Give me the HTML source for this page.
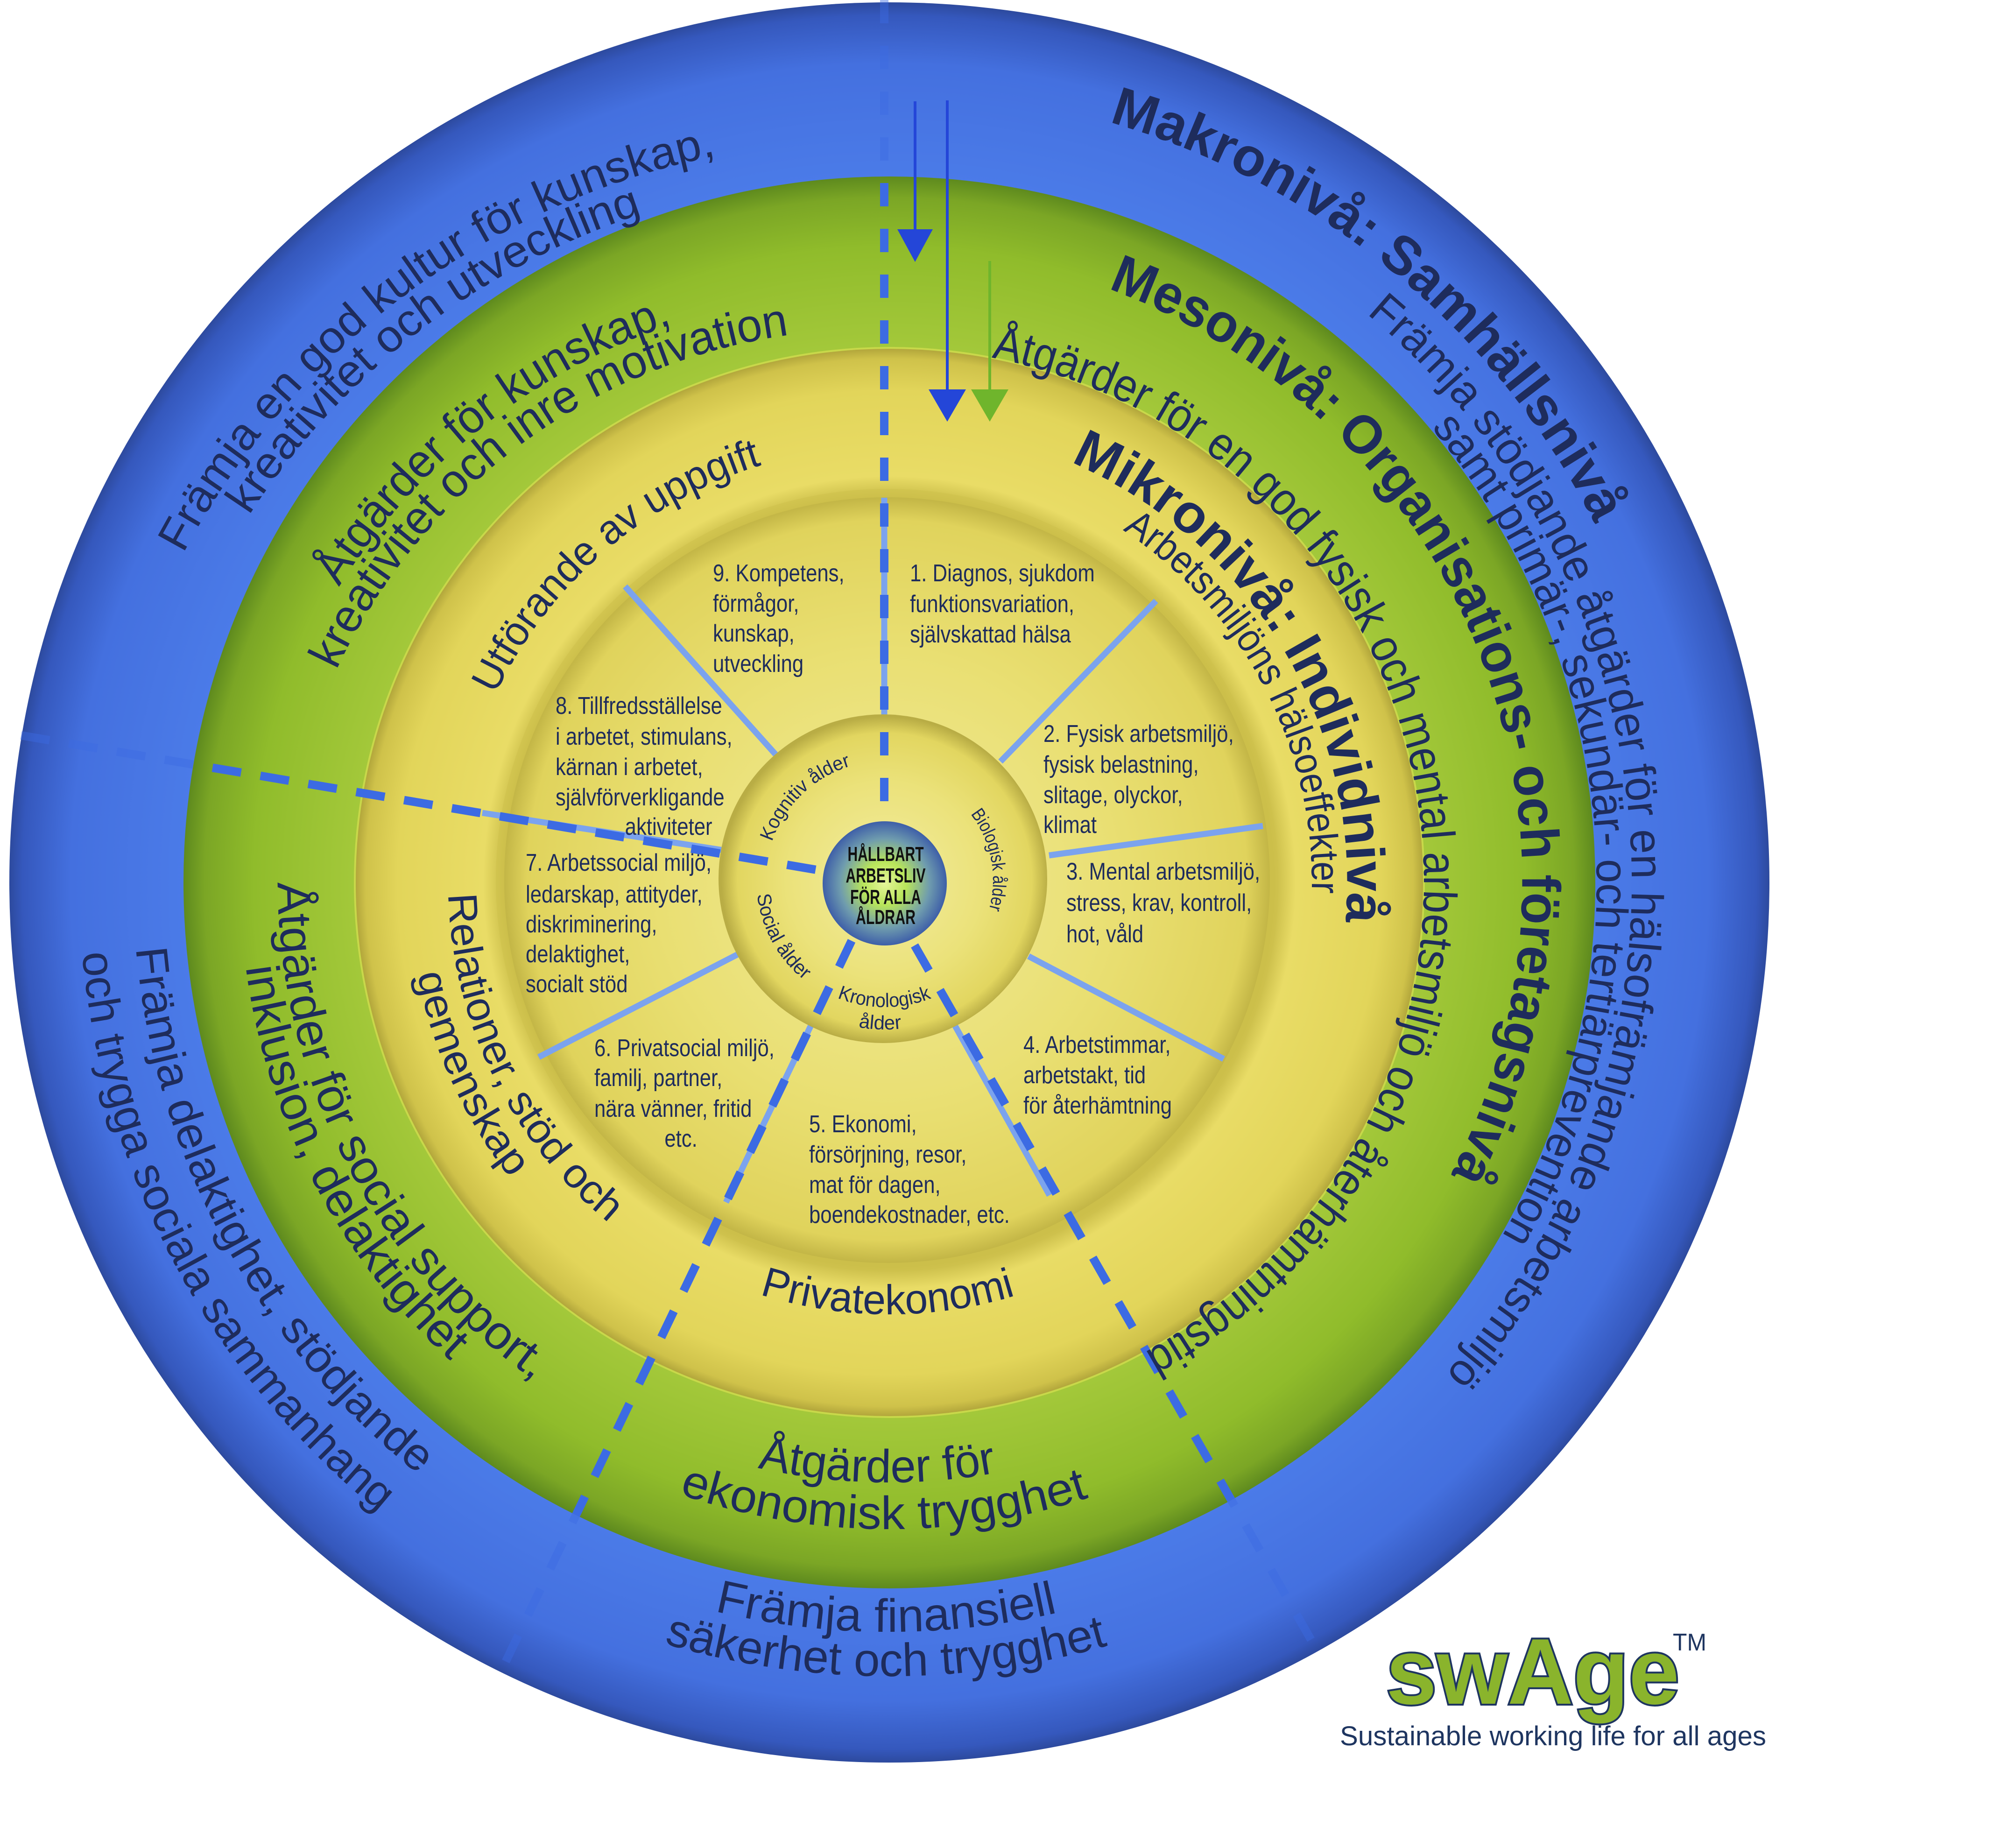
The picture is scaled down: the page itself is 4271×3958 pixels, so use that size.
<!DOCTYPE html>
<html><head><meta charset="utf-8"><style>
html,body{margin:0;padding:0;background:#fff;}
svg{display:block;}
.c{font-family:"Liberation Sans",sans-serif;fill:#1e2c5c;}
.n{font-family:"Liberation Sans Narrow","Liberation Sans",sans-serif;fill:#1e2c5c;font-size:52px;}
.b{font-weight:bold;}
</style></head><body>
<svg width="4271" height="3958" viewBox="0 0 4271 3958" xmlns="http://www.w3.org/2000/svg">
<defs>
<radialGradient id="gB" cx="1905" cy="1890" r="1885" gradientUnits="userSpaceOnUse">
<stop offset="0.8" stop-color="#4b7be8"/><stop offset="0.93" stop-color="#4470df"/><stop offset="0.985" stop-color="#3558bd"/><stop offset="1" stop-color="#2d4a9e"/></radialGradient>
<radialGradient id="gG" cx="1905" cy="1890" r="1512" gradientUnits="userSpaceOnUse">
<stop offset="0.76" stop-color="#a3c83a"/><stop offset="0.9" stop-color="#90bc2b"/><stop offset="0.97" stop-color="#7ba625"/><stop offset="1" stop-color="#5e8a1e"/></radialGradient>
<radialGradient id="gY" cx="1905" cy="1890" r="1145" gradientUnits="userSpaceOnUse">
<stop offset="0.72" stop-color="#c9bc48"/><stop offset="0.76" stop-color="#e9dc66"/><stop offset="0.92" stop-color="#e2d55a"/><stop offset="0.98" stop-color="#cfc24a"/><stop offset="1" stop-color="#b0a43a"/></radialGradient>
<radialGradient id="gI" cx="1900" cy="1885" r="820" gradientUnits="userSpaceOnUse">
<stop offset="0" stop-color="#f1ea9a"/><stop offset="0.6" stop-color="#e9df72"/><stop offset="0.94" stop-color="#e0d35c"/><stop offset="1" stop-color="#c3b646"/></radialGradient>
<radialGradient id="gA" cx="1895" cy="1885" r="350" gradientUnits="userSpaceOnUse">
<stop offset="0" stop-color="#f2eca0"/><stop offset="0.6" stop-color="#ebe27a"/><stop offset="0.9" stop-color="#e2d660"/><stop offset="1" stop-color="#b9ad45"/></radialGradient>
<radialGradient id="gC" cx="1895" cy="1892" r="133" gradientUnits="userSpaceOnUse">
<stop offset="0" stop-color="#e6f79a"/><stop offset="0.35" stop-color="#b8e55a"/><stop offset="0.72" stop-color="#6f9cae"/><stop offset="1" stop-color="#3e5fa8"/></radialGradient>
<clipPath id="inG"><circle cx="1905" cy="1890" r="1512"/></clipPath>

<path id="pA" d="M1905 195 A1695 1695 0 1 1 1905 3585 A1695 1695 0 1 1 1905 195"/>
<path id="pB" d="M1905 300 A1590 1590 0 1 1 1905 3480 A1590 1590 0 1 1 1905 300"/>
<path id="pC" d="M1905 375 A1515 1515 0 1 1 1905 3405 A1515 1515 0 1 1 1905 375"/>
<path id="pD" d="M1905 535 A1355 1355 0 1 1 1905 3245 A1355 1355 0 1 1 1905 535"/>
<path id="pE" d="M1905 745 A1145 1145 0 1 1 1905 3035 A1145 1145 0 1 1 1905 745"/>
<path id="pF" d="M1905 910 A980 980 0 1 1 1905 2870 A980 980 0 1 1 1905 910"/>
<path id="pG" d="M1905 985 A905 905 0 1 1 1905 2795 A905 905 0 1 1 1905 985"/>
<path id="pH" d="M1905 955 A935 935 0 1 1 1905 2825 A935 935 0 1 1 1905 955"/>
<path id="pP1" d="M1867 300 A1670 1670 0 1 1 1867 3640 A1670 1670 0 1 1 1867 300"/>
<path id="pP2" d="M1867 380 A1590 1590 0 1 1 1867 3560 A1590 1590 0 1 1 1867 380"/>
<path id="pO1" d="M1867 625 A1345 1345 0 1 1 1867 3315 A1345 1345 0 1 1 1867 625"/>
<path id="pO2" d="M1867 705 A1265 1265 0 1 1 1867 3235 A1265 1265 0 1 1 1867 705"/>
<path id="qI1" d="M1905 945 A945 945 0 1 0 1905 2835 A945 945 0 1 0 1905 945"/>
<path id="qI2" d="M1905 860 A1030 1030 0 1 0 1905 2920 A1030 1030 0 1 0 1905 860"/>
<path id="qM1" d="M1905 580 A1310 1310 0 1 0 1905 3200 A1310 1310 0 1 0 1905 580"/>
<path id="qM2" d="M1905 500 A1390 1390 0 1 0 1905 3280 A1390 1390 0 1 0 1905 500"/>
<path id="qN1" d="M1905 270 A1620 1620 0 1 0 1905 3510 A1620 1620 0 1 0 1905 270"/>
<path id="qN2" d="M1905 155 A1735 1735 0 1 0 1905 3625 A1735 1735 0 1 0 1905 155"/>
<path id="qJ" d="M1905 965 A925 925 0 1 0 1905 2815 A925 925 0 1 0 1905 965"/>
<path id="qK1" d="M1905 605 A1285 1285 0 1 0 1905 3175 A1285 1285 0 1 0 1905 605"/>
<path id="qK2" d="M1905 505 A1385 1385 0 1 0 1905 3275 A1385 1385 0 1 0 1905 505"/>
<path id="qL1" d="M1905 285 A1605 1605 0 1 0 1905 3495 A1605 1605 0 1 0 1905 285"/>
<path id="qL2" d="M1905 190 A1700 1700 0 1 0 1905 3590 A1700 1700 0 1 0 1905 190"/>
<path id="aK" d="M1895 1630 A255 255 0 1 1 1895 2140 A255 255 0 1 1 1895 1630"/>
<path id="aB" d="M1895 1653 A232 232 0 1 1 1895 2117 A232 232 0 1 1 1895 1653"/>
<path id="aS" d="M1895 1610 A275 275 0 1 0 1895 2160 A275 275 0 1 0 1895 1610"/>
<path id="aR" d="M1895 1613 A272 272 0 1 0 1895 2157 A272 272 0 1 0 1895 1613"/>
<path id="aL" d="M1895 1565 A320 320 0 1 0 1895 2205 A320 320 0 1 0 1895 1565"/>
</defs>

<!-- rings -->
<circle cx="1905" cy="1890" r="1885" fill="url(#gB)"/>
<circle cx="1905" cy="1890" r="1512" fill="url(#gG)"/>
<circle cx="1905" cy="1890" r="1145" fill="url(#gY)" stroke="#c8d84a" stroke-width="4"/>
<circle cx="1900" cy="1885" r="838" fill="#cfc24c" opacity="0.6"/>
<circle cx="1900" cy="1885" r="820" fill="url(#gI)"/>

<!-- spokes -->
<g stroke="#7ba3ee" stroke-width="13">
<line x1="2143" y1="1631" x2="2476" y2="1287"/>
<line x1="2247" y1="1832" x2="2705" y2="1769"/>
<line x1="2203" y1="2048" x2="2621" y2="2268"/>
<line x1="1154" y1="2264" x2="1582" y2="2043"/>
<line x1="1339" y1="1256" x2="1665" y2="1620"/>
<line x1="1033" y1="1741" x2="1569" y2="1824"/>
<line x1="1894" y1="1066" x2="1894" y2="1540"/>
<line x1="1752" y1="2165" x2="1555" y2="2575"/>
<line x1="2035" y1="2178" x2="2248" y2="2560"/>
</g>

<circle cx="1891" cy="1882" r="352" fill="url(#gA)"/>

<!-- dashed lines -->
<g stroke="#3c6be3" stroke-width="18" fill="none" opacity="0.45">
<line x1="1894" y1="0" x2="1894" y2="1758" stroke-dasharray="50 48"/>
<line x1="45" y1="1575" x2="1767" y2="1866" stroke-dasharray="62 42"/>
<line x1="1824" y1="2015" x2="1071" y2="3584" stroke-dasharray="62 48"/>
<line x1="1959" y1="2025" x2="2823" y2="3538" stroke-dasharray="62 48"/>
</g>
<g stroke="#3c6be3" stroke-width="18" fill="none" clip-path="url(#inG)">
<line x1="1894" y1="0" x2="1894" y2="1758" stroke-dasharray="50 48"/>
<line x1="45" y1="1575" x2="1767" y2="1866" stroke-dasharray="62 42"/>
<line x1="1824" y1="2015" x2="1071" y2="3584" stroke-dasharray="62 48"/>
<line x1="1959" y1="2025" x2="2823" y2="3538" stroke-dasharray="62 48"/>
</g>

<circle cx="1895" cy="1892" r="133" fill="url(#gC)"/>
<g font-family="'Liberation Sans Narrow','Liberation Sans',sans-serif" font-weight="bold" font-size="44" fill="#111" text-anchor="middle">
<text x="1897" y="1844" textLength="163" lengthAdjust="spacingAndGlyphs">HÅLLBART</text>
<text x="1897" y="1890" textLength="171" lengthAdjust="spacingAndGlyphs">ARBETSLIV</text>
<text x="1897" y="1936" textLength="152" lengthAdjust="spacingAndGlyphs">FÖR ALLA</text>
<text x="1897" y="1979" textLength="128" lengthAdjust="spacingAndGlyphs">ÅLDRAR</text>
</g>

<!-- arrows -->
<line x1="1960" y1="217" x2="1960" y2="495" stroke="#2446d8" stroke-width="6"/>
<polygon points="1922,491 1998,491 1960,561" fill="#2446d8"/>
<line x1="2029" y1="215" x2="2029" y2="838" stroke="#2446d8" stroke-width="6"/>
<polygon points="1989,834 2069,834 2029,903" fill="#2446d8"/>
<line x1="2120" y1="559" x2="2120" y2="838" stroke="#6fb52c" stroke-width="6"/>
<polygon points="2080,834 2160,834 2120,903" fill="#6fb52c"/>

<!-- curved texts -->
<g class="c">
<text class="c b" font-size="116"><textPath href="#pA" startOffset="4.472%" textLength="1390" lengthAdjust="spacingAndGlyphs">Makronivå: Samhällsnivå</textPath></text>
<text class="c" font-size="96"><textPath href="#pB" startOffset="11.111%" textLength="2539" lengthAdjust="spacingAndGlyphs">Främja stödjande åtgärder för en hälsofrämjande arbetsmiljö</textPath></text>
<text class="c" font-size="96"><textPath href="#pC" startOffset="13.889%" textLength="1851" lengthAdjust="spacingAndGlyphs">samt primär-, sekundär- och tertiärprevention</textPath></text>
<text class="c b" font-size="116"><textPath href="#pD" startOffset="5.611%" textLength="2301" lengthAdjust="spacingAndGlyphs">Mesonivå: Organisations- och företagsnivå</textPath></text>
<text class="c" font-size="100"><textPath href="#pE" startOffset="3.056%" textLength="2808" lengthAdjust="spacingAndGlyphs">Åtgärder för en god fysisk och mental arbetsmiljö och återhämtningstid</textPath></text>
<text class="c b" font-size="116"><textPath href="#pF" startOffset="6.472%" textLength="1226" lengthAdjust="spacingAndGlyphs">Mikronivå: Individnivå</textPath></text>
<text class="c" font-size="85"><textPath href="#pG" startOffset="9.306%" textLength="916" lengthAdjust="spacingAndGlyphs">Arbetsmiljöns hälsoeffekter</textPath></text>
<text class="c" font-size="88"><textPath href="#pH" startOffset="82.083%" textLength="775" lengthAdjust="spacingAndGlyphs">Utförande av uppgift</textPath></text>
<text class="c" font-size="96"><textPath href="#pP1" startOffset="82.778%" textLength="1472" lengthAdjust="spacingAndGlyphs">Främja en god kultur för kunskap,</textPath></text>
<text class="c" font-size="96"><textPath href="#pP2" startOffset="84.167%" textLength="1082" lengthAdjust="spacingAndGlyphs">kreativitet och utveckling</textPath></text>
<text class="c" font-size="100"><textPath href="#pO1" startOffset="83.889%" textLength="927" lengthAdjust="spacingAndGlyphs">Åtgärder för kunskap,</textPath></text>
<text class="c" font-size="100"><textPath href="#pO2" startOffset="81.944%" textLength="1258" lengthAdjust="spacingAndGlyphs">kreativitet och inre motivation</textPath></text>
<text class="c" font-size="88"><textPath href="#qI1" startOffset="25.417%" textLength="808" lengthAdjust="spacingAndGlyphs">Relationer, stöd och</textPath></text>
<text class="c" font-size="88"><textPath href="#qI2" startOffset="28.056%" textLength="485" lengthAdjust="spacingAndGlyphs">gemenskap</textPath></text>
<text class="c" font-size="100"><textPath href="#qM1" startOffset="25%" textLength="1246" lengthAdjust="spacingAndGlyphs">Åtgärder för social support,</textPath></text>
<text class="c" font-size="100"><textPath href="#qM2" startOffset="27.083%" textLength="970" lengthAdjust="spacingAndGlyphs">inklusion, delaktighet</textPath></text>
<text class="c" font-size="96"><textPath href="#qN1" startOffset="26.389%" textLength="1315" lengthAdjust="spacingAndGlyphs">Främja delaktighet, stödjande</textPath></text>
<text class="c" font-size="96"><textPath href="#qN2" startOffset="26.389%" textLength="1393" lengthAdjust="spacingAndGlyphs">och trygga sociala sammanhang</textPath></text>
<text class="c" font-size="90"><textPath href="#qJ" startOffset="45.139%" textLength="557" lengthAdjust="spacingAndGlyphs">Privatekonomi</textPath></text>
<text class="c" font-size="100"><textPath href="#qK1" startOffset="46.472%" textLength="516" lengthAdjust="spacingAndGlyphs">Åtgärder för</textPath></text>
<text class="c" font-size="100"><textPath href="#qK2" startOffset="44.722%" textLength="894" lengthAdjust="spacingAndGlyphs">ekonomisk trygghet</textPath></text>
<text class="c" font-size="100"><textPath href="#qL1" startOffset="46.25%" textLength="742" lengthAdjust="spacingAndGlyphs">Främja finansiell</textPath></text>
<text class="c" font-size="100"><textPath href="#qL2" startOffset="45.417%" textLength="964" lengthAdjust="spacingAndGlyphs">säkerhet och trygghet</textPath></text>
</g>

<!-- age ring texts -->
<g>
<text class="n" style="font-size:42px"><textPath href="#aK" startOffset="80.222%" textLength="243" lengthAdjust="spacingAndGlyphs">Kognitiv ålder</textPath></text>
<text class="n" style="font-size:40px"><textPath href="#aB" startOffset="14.556%" textLength="216" lengthAdjust="spacingAndGlyphs">Biologisk ålder</textPath></text>
<text class="n" style="font-size:42px"><textPath href="#aS" startOffset="26.806%" textLength="214" lengthAdjust="spacingAndGlyphs">Social ålder</textPath></text>
<text class="n" style="font-size:42px"><textPath href="#aR" startOffset="43.889%" textLength="207" lengthAdjust="spacingAndGlyphs">Kronologisk</textPath></text>
<text class="n" style="font-size:42px" text-anchor="middle"><textPath href="#aL" startOffset="49.5%">ålder</textPath></text>
</g>

<!-- inner segment texts (horizontally condensed) -->
<g transform="translate(1949,0) scale(0.84,1)">
<text class="n" x="0" y="1245">1. Diagnos, sjukdom</text>
<text class="n" x="0" y="1311">funktionsvariation,</text>
<text class="n" x="0" y="1376">självskattad hälsa</text>
</g>
<g transform="translate(1527,0) scale(0.84,1)">
<text class="n" x="0" y="1245">9. Kompetens,</text>
<text class="n" x="0" y="1310">förmågor,</text>
<text class="n" x="0" y="1374">kunskap,</text>
<text class="n" x="0" y="1439">utveckling</text>
</g>
<g transform="translate(1190,0) scale(0.84,1)">
<text class="n" x="0" y="1529">8. Tillfredsställelse</text>
<text class="n" x="0" y="1595">i arbetet, stimulans,</text>
<text class="n" x="0" y="1660">kärnan i arbetet,</text>
<text class="n" x="0" y="1725">självförverkligande</text>
<text class="n" x="177" y="1788">aktiviteter</text>
</g>
<g transform="translate(2235,0) scale(0.84,1)">
<text class="n" x="0" y="1589">2. Fysisk arbetsmiljö,</text>
<text class="n" x="0" y="1655">fysisk belastning,</text>
<text class="n" x="0" y="1720">slitage, olyckor,</text>
<text class="n" x="0" y="1784">klimat</text>
</g>
<g transform="translate(1126,0) scale(0.84,1)">
<text class="n" x="0" y="1865">7. Arbetssocial miljö,</text>
<text class="n" x="0" y="1933">ledarskap, attityder,</text>
<text class="n" x="0" y="1997">diskriminering,</text>
<text class="n" x="0" y="2061">delaktighet,</text>
<text class="n" x="0" y="2125">socialt stöd</text>
</g>
<g transform="translate(2284,0) scale(0.84,1)">
<text class="n" x="0" y="1884">3. Mental arbetsmiljö,</text>
<text class="n" x="0" y="1951">stress, krav, kontroll,</text>
<text class="n" x="0" y="2018">hot, våld</text>
</g>
<g transform="translate(1273,0) scale(0.84,1)">
<text class="n" x="0" y="2262">6. Privatsocial miljö,</text>
<text class="n" x="0" y="2326">familj, partner,</text>
<text class="n" x="0" y="2392">nära vänner, fritid</text>
<text class="n" x="179" y="2456">etc.</text>
</g>
<g transform="translate(2192,0) scale(0.84,1)">
<text class="n" x="0" y="2255">4. Arbetstimmar,</text>
<text class="n" x="0" y="2320">arbetstakt, tid</text>
<text class="n" x="0" y="2385">för återhämtning</text>
</g>
<g transform="translate(1733,0) scale(0.84,1)">
<text class="n" x="0" y="2425">5. Ekonomi,</text>
<text class="n" x="0" y="2490">försörjning, resor,</text>
<text class="n" x="0" y="2555">mat för dagen,</text>
<text class="n" x="0" y="2619">boendekostnader, etc.</text>
</g>

<!-- logo -->
<text x="2969" y="3649" font-family="'Liberation Sans',sans-serif" font-weight="bold" font-size="200" fill="#8ab42c" stroke="#1e3560" stroke-width="8" paint-order="stroke" textLength="628" lengthAdjust="spacingAndGlyphs">swAge</text>
<text x="3583" y="3535" font-family="'Liberation Sans Narrow','Liberation Sans',sans-serif" font-size="52" fill="#1e3560" textLength="72" lengthAdjust="spacingAndGlyphs">TM</text>
<text x="2870" y="3738" font-family="'Liberation Sans Narrow','Liberation Sans',sans-serif" font-size="58" fill="#1e3560" textLength="913" lengthAdjust="spacingAndGlyphs">Sustainable working life for all ages</text>
</svg>
</body></html>
